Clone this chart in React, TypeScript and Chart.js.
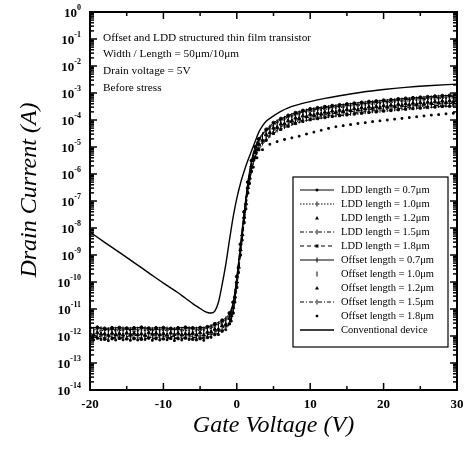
import React, { useEffect, useRef } from "react";
import { Chart, registerables } from "chart.js";

Chart.register(...registerables);

// Gate voltage grids (V)
const VG_LDD = [-20, -19, -18, -17, -16, -15, -14, -13, -12, -11, -10, -9, -8, -7, -6, -5, -4, -3, -2, -1, -0.5, 0, 0.5, 1, 1.5, 2, 2.5, 3, 4, 5, 6, 7, 8, 9, 10, 11, 12, 13, 14, 15, 16, 17, 18, 19, 20, 21, 22, 23, 24, 25, 26, 27, 28, 29, 30];
const VG_OFF = [-19.5, -18.5, -17.5, -16.5, -15.5, -14.5, -13.5, -12.5, -11.5, -10.5, -9.5, -8.5, -7.5, -6.5, -5.5, -4.5, -3.5, -2.5, -1.5, -0.75, -0.25, 0.25, 0.75, 1.25, 1.75, 2.25, 2.75, 3.5, 4.5, 5.5, 6.5, 7.5, 8.5, 9.5, 10.5, 11.5, 12.5, 13.5, 14.5, 15.5, 16.5, 17.5, 18.5, 19.5, 20.5, 21.5, 22.5, 23.5, 24.5, 25.5, 26.5, 27.5, 28.5, 29.5];
const VG_CONV = [-20, -18, -16, -14, -12, -10, -8, -7, -6, -5, -4.5, -4, -3.5, -3, -2.5, -2, -1.5, -1, -0.5, 0, 0.5, 1, 1.5, 2, 2.5, 3, 3.5, 4, 5, 6, 7, 8, 10, 12, 14, 17, 20, 23, 26, 30];

// Drain current, as log10(I / A)
const LDD_07 = [-11.70, -11.68, -11.72, -11.70, -11.69, -11.71, -11.70, -11.68, -11.71, -11.70, -11.69, -11.72, -11.70, -11.68, -11.70, -11.69, -11.66, -11.55, -11.42, -11.15, -10.75, -9.80, -8.60, -7.40, -6.30, -5.50, -5.00, -4.70, -4.35, -4.10, -3.95, -3.83, -3.73, -3.65, -3.59, -3.55, -3.51, -3.47, -3.44, -3.41, -3.38, -3.35, -3.32, -3.30, -3.27, -3.25, -3.22, -3.20, -3.18, -3.16, -3.14, -3.12, -3.10, -3.09, -3.07];
const LDD_10 = [-11.80, -11.82, -11.79, -11.81, -11.80, -11.78, -11.82, -11.80, -11.79, -11.81, -11.80, -11.78, -11.81, -11.80, -11.82, -11.79, -11.76, -11.65, -11.52, -11.25, -10.85, -9.90, -8.70, -7.50, -6.40, -5.60, -5.10, -4.80, -4.45, -4.20, -4.05, -3.93, -3.83, -3.75, -3.69, -3.65, -3.61, -3.57, -3.54, -3.51, -3.48, -3.45, -3.42, -3.40, -3.37, -3.35, -3.32, -3.30, -3.28, -3.26, -3.24, -3.22, -3.20, -3.19, -3.17];
const LDD_12 = [-11.90, -11.88, -11.92, -11.90, -11.91, -11.89, -11.90, -11.92, -11.88, -11.90, -11.91, -11.89, -11.90, -11.92, -11.90, -11.88, -11.86, -11.75, -11.62, -11.35, -10.95, -10.00, -8.80, -7.60, -6.50, -5.70, -5.20, -4.90, -4.55, -4.30, -4.15, -4.03, -3.93, -3.85, -3.79, -3.75, -3.71, -3.67, -3.64, -3.61, -3.58, -3.55, -3.52, -3.50, -3.47, -3.45, -3.42, -3.40, -3.38, -3.36, -3.34, -3.32, -3.30, -3.29, -3.27];
const LDD_15 = [-12.00, -12.02, -11.99, -12.01, -12.00, -12.02, -11.98, -12.00, -12.01, -11.99, -12.00, -12.02, -12.00, -11.99, -12.01, -12.00, -11.96, -11.85, -11.72, -11.45, -11.05, -10.10, -8.90, -7.70, -6.60, -5.80, -5.30, -5.00, -4.65, -4.40, -4.25, -4.13, -4.03, -3.95, -3.89, -3.85, -3.81, -3.77, -3.74, -3.71, -3.68, -3.65, -3.62, -3.60, -3.57, -3.55, -3.52, -3.50, -3.48, -3.46, -3.44, -3.42, -3.40, -3.39, -3.37];
const LDD_18 = [-12.10, -12.08, -12.12, -12.10, -12.09, -12.11, -12.10, -12.12, -12.08, -12.10, -12.11, -12.09, -12.10, -12.08, -12.12, -12.10, -12.06, -11.95, -11.82, -11.55, -11.15, -10.20, -9.00, -7.80, -6.70, -5.90, -5.40, -5.10, -4.75, -4.50, -4.35, -4.23, -4.13, -4.05, -3.99, -3.95, -3.91, -3.87, -3.84, -3.81, -3.78, -3.75, -3.72, -3.70, -3.67, -3.65, -3.62, -3.60, -3.58, -3.56, -3.54, -3.52, -3.50, -3.49, -3.47];

const OFF_07 = [-11.75, -11.73, -11.77, -11.75, -11.74, -11.76, -11.75, -11.73, -11.77, -11.75, -11.74, -11.76, -11.75, -11.73, -11.75, -11.74, -11.65, -11.55, -11.37, -11.05, -10.35, -9.25, -8.05, -6.90, -5.95, -5.27, -4.88, -4.55, -4.27, -4.07, -3.94, -3.83, -3.74, -3.67, -3.62, -3.58, -3.54, -3.51, -3.48, -3.45, -3.42, -3.39, -3.36, -3.34, -3.31, -3.29, -3.26, -3.24, -3.22, -3.20, -3.18, -3.16, -3.15, -3.13];
const OFF_10 = [-11.85, -11.87, -11.84, -11.86, -11.85, -11.83, -11.87, -11.85, -11.84, -11.86, -11.85, -11.83, -11.86, -11.85, -11.87, -11.84, -11.75, -11.65, -11.47, -11.15, -10.45, -9.35, -8.15, -7.00, -6.05, -5.37, -4.98, -4.65, -4.37, -4.17, -4.04, -3.93, -3.84, -3.77, -3.72, -3.68, -3.64, -3.61, -3.58, -3.55, -3.52, -3.49, -3.46, -3.44, -3.41, -3.39, -3.36, -3.34, -3.32, -3.30, -3.28, -3.26, -3.25, -3.23];
const OFF_12 = [-11.95, -11.93, -11.97, -11.95, -11.96, -11.94, -11.95, -11.97, -11.93, -11.95, -11.96, -11.94, -11.95, -11.93, -11.95, -11.96, -11.85, -11.75, -11.57, -11.25, -10.55, -9.45, -8.25, -7.10, -6.15, -5.47, -5.08, -4.75, -4.47, -4.27, -4.14, -4.03, -3.94, -3.87, -3.82, -3.78, -3.74, -3.71, -3.68, -3.65, -3.62, -3.59, -3.56, -3.54, -3.51, -3.49, -3.46, -3.44, -3.42, -3.40, -3.38, -3.36, -3.35, -3.33];
const OFF_15 = [-12.05, -12.07, -12.04, -12.06, -12.05, -12.03, -12.07, -12.05, -12.06, -12.04, -12.05, -12.07, -12.05, -12.04, -12.06, -12.05, -11.95, -11.85, -11.67, -11.35, -10.65, -9.55, -8.35, -7.20, -6.25, -5.57, -5.18, -4.85, -4.57, -4.37, -4.24, -4.13, -4.04, -3.97, -3.92, -3.88, -3.84, -3.81, -3.78, -3.75, -3.72, -3.69, -3.66, -3.64, -3.61, -3.59, -3.56, -3.54, -3.52, -3.50, -3.48, -3.46, -3.45, -3.43];
const OFF_18 = [-12.15, -12.13, -12.17, -12.15, -12.14, -12.16, -12.15, -12.13, -12.16, -12.15, -12.14, -12.17, -12.15, -12.13, -12.15, -12.16, -12.05, -11.95, -11.77, -11.45, -10.75, -9.65, -8.45, -7.30, -6.35, -5.75, -5.40, -5.10, -4.90, -4.80, -4.72, -4.66, -4.60, -4.52, -4.45, -4.38, -4.31, -4.25, -4.21, -4.17, -4.13, -4.10, -4.06, -4.03, -4.00, -3.97, -3.94, -3.91, -3.88, -3.85, -3.82, -3.80, -3.77, -3.75];

const CONV = [-8.15, -8.53, -8.90, -9.28, -9.66, -10.04, -10.40, -10.60, -10.80, -10.98, -11.07, -11.13, -11.15, -11.08, -10.75, -10.10, -9.35, -8.45, -7.60, -6.90, -6.35, -5.90, -5.50, -5.15, -4.80, -4.45, -4.22, -4.05, -3.85, -3.68, -3.55, -3.46, -3.32, -3.20, -3.10, -2.97, -2.87, -2.79, -2.73, -2.67];

const SERIES_LABELS = [
  "LDD length = 0.7\u03bcm",
  "LDD length = 1.0\u03bcm",
  "LDD length = 1.2\u03bcm",
  "LDD length = 1.5\u03bcm",
  "LDD length = 1.8\u03bcm",
  "Offset length = 0.7\u03bcm",
  "Offset length = 1.0\u03bcm",
  "Offset length = 1.2\u03bcm",
  "Offset length = 1.5\u03bcm",
  "Offset length = 1.8\u03bcm",
  "Conventional device",
];

const NOTES = [
  "Offset and LDD structured thin film transistor",
  "Width / Length = 50\u03bcm/10\u03bcm",
  "Drain voltage = 5V",
  "Before stress",
];

const Y_EXPONENTS = [0, -1, -2, -3, -4, -5, -6, -7, -8, -9, -10, -11, -12, -13, -14];
const X_TICKS = [-20, -10, 0, 10, 20, 30];
const X_MINOR = [-15, -5, 5, 15, 25];
const X_TITLE = "Gate Voltage (V)";
const Y_TITLE = "Drain Current (A)";

const SERIF = "'Liberation Serif', 'Times New Roman', serif";

function toPoints(xs: number[], logs: number[]) {
  return xs.map((x, i) => ({ x, y: Math.pow(10, logs[i]) }));
}

function drawMarker(ctx: CanvasRenderingContext2D, style: string, rot: number, r: number, x: number, y: number) {
  ctx.save();
  ctx.fillStyle = "#000";
  ctx.strokeStyle = "#000";
  ctx.lineWidth = 1;
  ctx.setLineDash([]);
  ctx.beginPath();
  if (style === "circle") {
    ctx.arc(x, y, r, 0, Math.PI * 2);
    ctx.fill();
  } else if (style === "rect") {
    ctx.fillRect(x - r, y - r, 2 * r, 2 * r);
  } else if (style === "triangle") {
    ctx.moveTo(x, y - r);
    ctx.lineTo(x + r, y + r * 0.8);
    ctx.lineTo(x - r, y + r * 0.8);
    ctx.closePath();
    ctx.fill();
  } else if (style === "line") {
    if (rot === 90) {
      ctx.moveTo(x, y - r);
      ctx.lineTo(x, y + r);
    } else {
      ctx.moveTo(x - r, y);
      ctx.lineTo(x + r, y);
    }
    ctx.stroke();
  }
  ctx.restore();
}

const decorPlugin = {
  id: "decor",
  afterDraw(chart: any) {
    const { ctx, chartArea: a, scales } = chart;
    const xs = scales.x;
    const ys = scales.y;
    ctx.save();
    ctx.strokeStyle = "#000";
    ctx.fillStyle = "#000";

    const seg = (x1: number, y1: number, x2: number, y2: number) => {
      ctx.beginPath();
      ctx.moveTo(x1, y1);
      ctx.lineTo(x2, y2);
      ctx.stroke();
    };

    // frame
    ctx.lineWidth = 2;
    ctx.strokeRect(a.left, a.top, a.right - a.left, a.bottom - a.top);

    // y ticks
    ctx.lineWidth = 1.5;
    Y_EXPONENTS.forEach((e) => {
      const y = ys.getPixelForValue(Math.pow(10, e));
      seg(a.left, y, a.left + 7, y);
      seg(a.right, y, a.right - 7, y);
      if (e < 0) {
        for (let m = 2; m <= 9; m++) {
          const yy = ys.getPixelForValue(m * Math.pow(10, e));
          seg(a.left, yy, a.left + 4, yy);
          seg(a.right, yy, a.right - 4, yy);
        }
      }
    });

    // x ticks
    X_TICKS.forEach((v) => {
      const x = xs.getPixelForValue(v);
      seg(x, a.bottom, x, a.bottom - 7);
      seg(x, a.top, x, a.top + 7);
    });
    X_MINOR.forEach((v) => {
      const x = xs.getPixelForValue(v);
      seg(x, a.bottom, x, a.bottom - 4);
      seg(x, a.top, x, a.top + 4);
    });

    // y labels 10^e
    ctx.textBaseline = "middle";
    ctx.textAlign = "left";
    Y_EXPONENTS.forEach((e) => {
      const y = ys.getPixelForValue(Math.pow(10, e));
      ctx.font = `bold 13px ${SERIF}`;
      const wb = ctx.measureText("10").width;
      ctx.font = `bold 8px ${SERIF}`;
      const ex = String(e);
      const we = ctx.measureText(ex).width;
      const x0 = 81 - wb - we;
      ctx.font = `bold 13px ${SERIF}`;
      ctx.fillText("10", x0, y + 2);
      ctx.font = `bold 8px ${SERIF}`;
      ctx.fillText(ex, x0 + wb, y - 4);
    });

    // x labels
    ctx.textAlign = "center";
    ctx.font = `bold 13px ${SERIF}`;
    X_TICKS.forEach((v) => {
      const x = xs.getPixelForValue(v);
      ctx.fillText(String(v), x, a.bottom + 15);
    });

    // axis titles
    ctx.font = `italic 24px ${SERIF}`;
    ctx.fillText(X_TITLE, (a.left + a.right) / 2, 426);
    ctx.save();
    ctx.translate(30, 190);
    ctx.rotate(-Math.PI / 2);
    ctx.fillText(Y_TITLE, 0, 0);
    ctx.restore();

    // notes
    ctx.textAlign = "left";
    ctx.font = `11.3px ${SERIF}`;
    const noteY = [38, 54, 71, 88];
    NOTES.forEach((t, i) => ctx.fillText(t, 103, noteY[i]));

    // legend
    const lx = 293, ly = 177, lw = 155, lh = 170;
    ctx.fillStyle = "#fff";
    ctx.fillRect(lx, ly, lw, lh);
    ctx.lineWidth = 1.2;
    ctx.strokeStyle = "#000";
    ctx.strokeRect(lx, ly, lw, lh);
    ctx.fillStyle = "#000";
    ctx.font = `10.5px ${SERIF}`;
    chart.data.datasets.forEach((ds: any, i: number) => {
      const y = 190 + i * 14;
      if (ds.showLine !== false) {
        ctx.save();
        ctx.lineWidth = ds.borderWidth || 1;
        ctx.setLineDash(ds.borderDash || []);
        ctx.beginPath();
        ctx.moveTo(300, y);
        ctx.lineTo(334, y);
        ctx.stroke();
        ctx.restore();
      }
      if (ds.pointRadius > 0) {
        drawMarker(ctx, ds.pointStyle, ds.rotation || 0, ds.pointRadius, 317, y);
      }
      ctx.fillText(ds.label, 341, y);
    });
    ctx.restore();
  },
};

function mk(label: string, xs: number[], logs: number[], opts: any) {
  return {
    label,
    data: toPoints(xs, logs),
    borderColor: "#000",
    backgroundColor: "#000",
    pointBackgroundColor: "#000",
    pointBorderColor: "#000",
    borderWidth: 1,
    pointBorderWidth: 1,
    pointRadius: 1.5,
    cubicInterpolationMode: "monotone",
    ...opts,
  };
}

export default function App() {
  const ref = useRef<HTMLCanvasElement | null>(null);
  useEffect(() => {
    if (!ref.current) return;
    const datasets = [
      mk(SERIES_LABELS[0], VG_LDD, LDD_07, { pointStyle: "circle", pointRadius: 1.5 }),
      mk(SERIES_LABELS[1], VG_LDD, LDD_10, { borderDash: [1.5, 1.5], pointStyle: "line", rotation: 90, pointRadius: 2.5 }),
      mk(SERIES_LABELS[2], VG_LDD, LDD_12, { showLine: false, pointStyle: "triangle", pointRadius: 2 }),
      mk(SERIES_LABELS[3], VG_LDD, LDD_15, { borderDash: [4, 2, 1, 2], pointStyle: "line", rotation: 90, pointRadius: 2.5 }),
      mk(SERIES_LABELS[4], VG_LDD, LDD_18, { borderDash: [4, 3], pointStyle: "rect", pointRadius: 1.5 }),
      mk(SERIES_LABELS[5], VG_OFF, OFF_07, { pointStyle: "line", rotation: 90, pointRadius: 2.5 }),
      mk(SERIES_LABELS[6], VG_OFF, OFF_10, { showLine: false, pointStyle: "line", rotation: 90, pointRadius: 2.5 }),
      mk(SERIES_LABELS[7], VG_OFF, OFF_12, { showLine: false, pointStyle: "triangle", pointRadius: 2 }),
      mk(SERIES_LABELS[8], VG_OFF, OFF_15, { borderDash: [4, 2, 1, 2], pointStyle: "line", rotation: 90, pointRadius: 2.5 }),
      mk(SERIES_LABELS[9], VG_OFF, OFF_18, { showLine: false, pointStyle: "rect", pointRadius: 1.2 }),
      mk(SERIES_LABELS[10], VG_CONV, CONV, { pointRadius: 0, borderWidth: 1.4 }),
    ];
    const chart = new Chart(ref.current, {
      type: "line",
      data: { datasets },
      options: {
        animation: false,
        responsive: false,
        devicePixelRatio: 1,
        parsing: true,
        layout: { padding: { left: 90, top: 12, right: 14, bottom: 64 } },
        plugins: { legend: { display: false }, tooltip: { enabled: false } },
        scales: {
          x: { type: "linear", min: -20, max: 30, display: false },
          y: { type: "logarithmic", min: 1e-14, max: 1, display: false },
        },
      },
      plugins: [decorPlugin],
    } as any);
    return () => chart.destroy();
  }, []);
  return (
    <div style={{ position: "fixed", left: 0, top: 0, width: 471, height: 454, background: "#fff" }}>
      <canvas ref={ref} width={471} height={454} style={{ display: "block" }} />
    </div>
  );
}
